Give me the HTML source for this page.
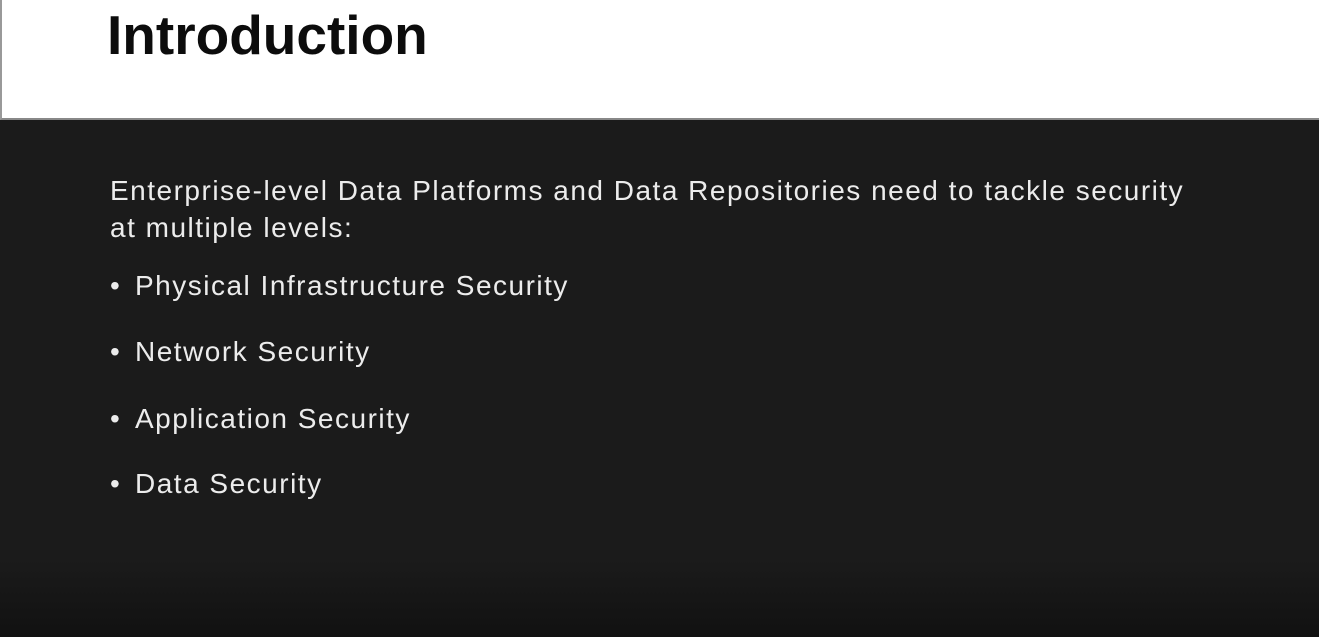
<!DOCTYPE html>
<html><head><meta charset="utf-8"><style>
html,body{margin:0;padding:0;}
body{width:1319px;height:637px;position:relative;overflow:hidden;font-family:"Liberation Sans",sans-serif;background:#1b1b1b;}
.hdr{position:absolute;left:0;top:0;width:1319px;height:120px;background:#fff;border-left:2px solid #999;box-sizing:border-box;border-bottom:2px solid #888;}
.dark{position:absolute;left:0;top:120px;width:1319px;height:517px;background:linear-gradient(#1b1b1b 0%,#1b1b1b 85%,#111 100%);}
.t{position:absolute;white-space:nowrap;}
h1{position:absolute;left:107px;top:0;margin:0;font-size:55px;line-height:70px;font-weight:bold;color:#0c0c0c;}
.p{color:#ececec;font-size:28px;line-height:37px;letter-spacing:1.5px;}
</style></head><body>
<div class="hdr"></div>
<h1>Introduction</h1>
<div class="dark"></div>
<div class="t p" style="left:110px;top:172px;">Enterprise-level Data Platforms and Data Repositories need to tackle security<br>at multiple levels:</div>
<div class="t p" style="left:110px;top:267px;">•<span style="position:absolute;left:25px;">Physical Infrastructure Security</span></div>
<div class="t p" style="left:110px;top:333px;">•<span style="position:absolute;left:25px;">Network Security</span></div>
<div class="t p" style="left:110px;top:400px;">•<span style="position:absolute;left:25px;">Application Security</span></div>
<div class="t p" style="left:110px;top:465px;">•<span style="position:absolute;left:25px;">Data Security</span></div>
</body></html>
